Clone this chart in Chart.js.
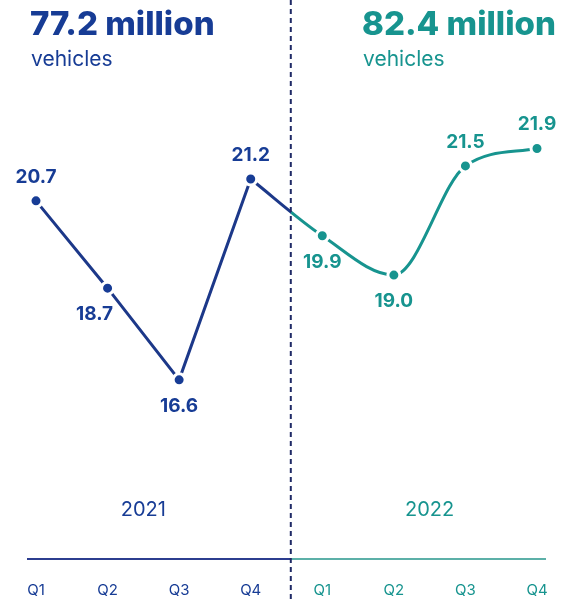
<!DOCTYPE html>
<html>
<head>
<meta charset="utf-8">
<script src="https://cdn.jsdelivr.net/npm/chart.js@4"></script>
<style>
  html, body { margin: 0; padding: 0; background: #ffffff; }
  #wrap { position: relative; width: 564px; height: 601px; }
</style>
</head>
<body>
<div id="wrap"><canvas id="c" width="564" height="601"></canvas></div>
<script>
// ---- data ----
const quarters = ['Q1', 'Q2', 'Q3', 'Q4', 'Q1', 'Q2', 'Q3', 'Q4'];
const years = ['2021', '2022'];
const totals = ['77.2 million', '82.4 million'];
const unitLabel = 'vehicles';
const sales2021 = [20.7, 18.7, 16.6, 21.2];
const sales2022 = [19.9, 19.0, 21.5, 21.9];
// label placement per point (above / below / below-left)
const labelPlace = ['above', 'below-left', 'below', 'above', 'below', 'below', 'above', 'above'];

// ---- style ----
const BLUE = '#173c95';
const BLUE_LINE = '#1c3889';
const TEAL = '#17948f';
const TEAL_AXIS = '#5cb0a8';
const FONT = 'Inter, "Open Sans", sans-serif';

const blueData = sales2021.concat(sales2022.map(() => null));
const tealData = sales2021.map((v, i) => i === sales2021.length - 1 ? v : null).concat(sales2022);

const splitAt = 3.56; // position of the divider between the years (category units)

function splitGradient(ctx) {
  const c = ctx.chart.ctx;
  const p0 = ctx.p0, p1 = ctx.p1;
  const xs = ctx.chart.scales.x.getPixelForValue(splitAt);
  const g = c.createLinearGradient(p0.x, 0, p1.x, 0);
  let f = (xs - p0.x) / (p1.x - p0.x);
  f = Math.max(0, Math.min(1, f));
  g.addColorStop(0, BLUE_LINE);
  g.addColorStop(f, BLUE_LINE);
  g.addColorStop(f, TEAL);
  g.addColorStop(1, TEAL);
  return g;
}

const decorPlugin = {
  id: 'decor',
  afterDatasetsDraw(chart) {
    const c = chart.ctx;
    const xs = chart.scales.x;
    const ys = chart.scales.y;
    const area = chart.chartArea;
    const divX = xs.getPixelForValue(splitAt);
    c.save();
    // baseline
    const baseY = area.bottom + 1;
    c.lineWidth = 2;
    c.strokeStyle = '#2c3d8f';
    c.beginPath(); c.moveTo(area.left - 9, baseY); c.lineTo(divX, baseY); c.stroke();
    c.strokeStyle = TEAL_AXIS;
    c.beginPath(); c.moveTo(divX, baseY); c.lineTo(area.right + 9, baseY); c.stroke();
    // dashed divider
    c.strokeStyle = '#1f2a66';
    c.lineWidth = 2;
    c.setLineDash([5, 4]);
    c.beginPath(); c.moveTo(divX, 0); c.lineTo(divX, chart.height); c.stroke();
    c.setLineDash([]);
    // headers
    c.textAlign = 'left';
    c.textBaseline = 'alphabetic';
    const hx = [30, 362];
    const hc = [BLUE, TEAL];
    for (let k = 0; k < 2; k++) {
      c.fillStyle = hc[k];
      c.font = '800 33px ' + FONT;
      c.fillText(totals[k], hx[k], 35);
      c.font = '400 21px ' + FONT;
      c.fillText(unitLabel, hx[k] + 1, 66);
    }
    // year labels
    c.textAlign = 'center';
    c.textBaseline = 'middle';
    c.font = '400 20px ' + FONT;
    c.fillStyle = BLUE;
    c.fillText(years[0], (xs.getPixelForValue(1) + xs.getPixelForValue(2)) / 2, 510);
    c.fillStyle = TEAL;
    c.fillText(years[1], (xs.getPixelForValue(5) + xs.getPixelForValue(6)) / 2, 510);
    // value labels
    c.font = '700 19px ' + FONT;
    const all = sales2021.concat(sales2022);
    all.forEach((v, i) => {
      const px = xs.getPixelForValue(i);
      const py = ys.getPixelForValue(v);
      let lx = px, ly = py;
      const p = labelPlace[i];
      if (p === 'above') ly = py - 24;
      else if (p === 'below') ly = py + 26;
      else if (p === 'below-left') { ly = py + 26; lx = px - 13; }
      c.fillStyle = i < 4 ? BLUE : TEAL;
      c.fillText(v.toFixed(1), lx, ly);
    });
    c.restore();
  }
};

new Chart(document.getElementById('c'), {
  type: 'line',
  data: {
    labels: quarters,
    datasets: [
      {
        data: blueData,
        borderColor: BLUE_LINE,
        borderWidth: 3,
        tension: 0,
        pointRadius: 6,
        pointBackgroundColor: BLUE,
        pointBorderColor: '#ffffff',
        pointBorderWidth: 3,
        spanGaps: false
      },
      {
        data: tealData,
        borderColor: TEAL,
        borderWidth: 3,
        cubicInterpolationMode: 'monotone',
        pointRadius: tealData.map((v, i) => i < 4 ? 0 : 6),
        pointBackgroundColor: TEAL,
        pointBorderColor: '#ffffff',
        pointBorderWidth: 3,
        segment: {
          borderColor: ctx => ctx.p0DataIndex === 3 ? splitGradient(ctx) : TEAL
        }
      }
    ]
  },
  options: {
    responsive: false,
    animation: false,
    layout: { padding: { left: 36, right: 27, top: 100, bottom: 0 } },
    plugins: { legend: { display: false }, tooltip: { enabled: false } },
    scales: {
      x: {
        offset: false,
        grid: { display: false, drawTicks: false },
        border: { display: false },
        afterFit: axis => { axis.height = 43; axis.paddingLeft = 0; axis.paddingRight = 0; },
        ticks: {
          padding: 23,
          font: { family: FONT, size: 15 },
          color: ctx => ctx.index < 4 ? BLUE : TEAL,
          maxRotation: 0,
          autoSkip: false
        }
      },
      y: {
        display: false,
        min: 12.52,
        max: 23.01
      }
    }
  },
  plugins: [decorPlugin]
});
</script>
</body>
</html>
